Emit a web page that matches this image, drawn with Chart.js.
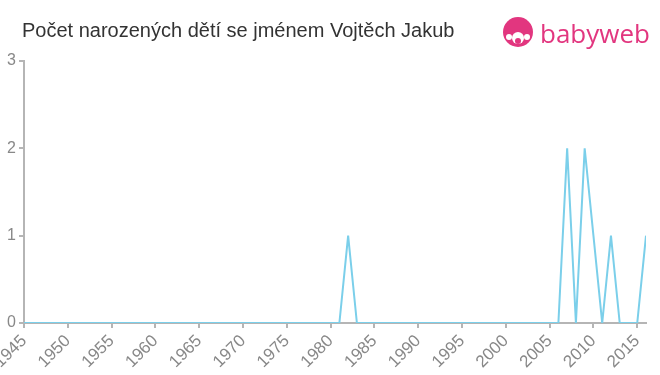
<!DOCTYPE html>
<html>
<head>
<meta charset="utf-8">
<script src="https://cdn.jsdelivr.net/npm/chart.js@4"></script>
<style>
  html, body { margin: 0; padding: 0; background: #fff; }
  #wrap { position: relative; width: 660px; height: 375px; font-family: "Liberation Sans", Arial, sans-serif; }
  #title { position: absolute; left: 22px; top: 19px; font-size: 20px; color: #333; }
  #logo { position: absolute; left: 501px; top: 15px; height: 36px; }
  #logo svg { position: absolute; left: 0; top: 1px; }
  #logo span { position: absolute; left: 39px; top: 0px; font-size: 26px; color: #e2367f; font-family: "Open Sans", "Liberation Sans", sans-serif; }
  canvas { position: absolute; left: 0; top: 0; }
</style>
</head>
<body>
<div id="wrap">
  <canvas id="chart" width="660" height="375"></canvas>
  <div id="title">Počet narozených dětí se jménem Vojtěch Jakub</div>
  <div id="logo">
    <svg width="36" height="36" viewBox="0 0 36 36">
      <circle cx="17" cy="16" r="15" fill="#e2367f"/>
      <circle cx="17" cy="22" r="6" fill="#fff"/>
      <circle cx="17" cy="25" r="3" fill="#e2367f"/>
      <circle cx="8" cy="21" r="3" fill="#fff"/>
      <circle cx="26" cy="21" r="3" fill="#fff"/>
    </svg>
    <span>babyweb</span>
  </div>
</div>
<script>
// ---------------------------
// Data
// ---------------------------
const years = [];
for (let y = 1945; y <= 2016; y++) years.push(y);

// non-zero years, everything else is 0
const peakYears = [1982, 2007, 2009, 2010, 2012, 2016];
const peakCounts = [1, 2, 2, 1, 1, 1];

const counts = years.map(y => {
  const i = peakYears.indexOf(y);
  return i >= 0 ? peakCounts[i] : 0;
});

const yTicks = [0, 1, 2, 3];

// ---------------------------
// Chart
// ---------------------------
const axisColor = "#b5b5b5";
const fontFamily = "'Liberation Sans', Arial, sans-serif";

new Chart(document.getElementById("chart"), {
  type: "line",
  data: {
    datasets: [{
      data: years.map((y, i) => ({ x: y, y: counts[i] })),
      borderColor: "#7bcfea",
      borderWidth: 2,
      pointRadius: 0,
      tension: 0,
      fill: false
    }]
  },
  options: {
    responsive: false,
    animation: false,
    layout: { padding: { top: 61, right: 14, left: 0, bottom: 0 } },
    plugins: { legend: { display: false }, tooltip: { enabled: false } },
    scales: {
      x: {
        type: "linear",
        min: 1945,
        max: 2016,
        afterBuildTicks: s => { s.ticks = years.filter(y => y % 5 === 0).map(v => ({ value: v })); },
        afterFit: s => { s.height = 52; s.paddingLeft = 0; s.paddingRight = 0; },
        grid: { drawOnChartArea: false, color: axisColor, lineWidth: 2, tickLength: 5 },
        border: { color: axisColor, width: 2 },
        ticks: {
          color: "#888",
          font: { family: fontFamily, size: 17 },
          minRotation: 45,
          maxRotation: 45,
          padding: 3,
          callback: v => String(v)
        }
      },
      y: {
        min: 0,
        max: 3,
        afterBuildTicks: s => { s.ticks = yTicks.map(v => ({ value: v })); },
        afterFit: s => { s.width = 24; },
        grid: { drawOnChartArea: false, color: axisColor, lineWidth: 2, tickLength: 5 },
        border: { color: axisColor, width: 2 },
        ticks: { color: "#888", font: { family: fontFamily, size: 16 }, padding: 3 }
      }
    }
  }
});
</script>
</body>
</html>
